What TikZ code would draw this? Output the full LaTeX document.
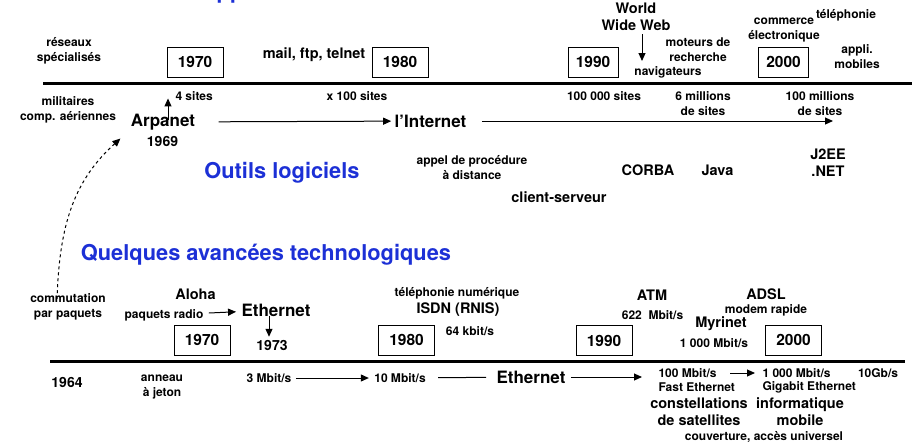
\documentclass[tikz,border=0pt]{standalone}
\usepackage{fontspec}
\setmainfont{TeX Gyre Heros}
\usetikzlibrary{arrows.meta}
\definecolor{title_blue}{RGB}{28,48,214}
\tikzset{
	txt/.style = {
		align=center,
		inner sep=0pt
	},
	txt_s/.style = {
		txt,
		font=\bfseries\fontsize{12}{15}\selectfont
	},
	txt_m/.style = {
		txt,
		font=\bfseries\fontsize{14.5}{17}\selectfont
	},
	txt_l/.style = {
		txt,
		font=\bfseries\fontsize{17}{20}\selectfont
	},
	txt_date/.style = {
		txt,
		font=\bfseries\fontsize{14}{17}\selectfont
	},
	txt_title/.style = {
		txt,
		title_blue,
		font=\bfseries\fontsize{21.8}{25}\selectfont
	},
	node_year/.style = {
		draw=black,
		line width=1pt,
		inner sep=0pt,
		minimum width=56pt,
		minimum height=30pt,
		font=\bfseries\fontsize{15.5}{18}\selectfont
	},
	node_year_n/.style = {
		node_year,
		minimum width=50pt
	},
	timeline/.style = {
		line width=3pt
	},
}

\begin{document}
\begin{tikzpicture}[x=1pt, y=-1pt, >={Triangle[length=8pt,width=7pt]}, line width=1pt]
\useasboundingbox (0,0) rectangle (915,447);

% applications
\node [txt_title, anchor=base west] (t_app) at (200.5,-1.6) {Applications};
\draw [timeline] (43,83) coordinate (top_start) -- (912,83) coordinate (top_stop);
\node [node_year] (y70) at (195,62) {1970};
\node [node_year] (y80) at (400,62) {1980};
\node [node_year_n] (y90) at (593,62) {1990};
\node [node_year_n] (y00) at (783.5,62) {2000};
\node [txt_s] (reseaux) at (69,51) {réseaux\\spécialisés};
\node [txt_m] (mail) at (314,55) {mail, ftp, telnet};
\node [txt_m] (www) at (636,17) {World\\Wide Web};
\node [txt_s] (moteurs) at (698,50) {moteurs de\\recherche};
\node [txt_s] (navig) at (668,72) {navigateurs};
\node [txt_s] (commerce) at (784,30) {commerce\\électronique};
\node [txt_s] (telephonie) at (846,15) {téléphonie};
\node [txt_s] (appli) at (857,57) {appli.\\mobiles};
\coordinate (www_tip) at (642,61);
\draw [->] (www.south -| www_tip) ++(0,3) -- (www_tip);

\node [txt_s] (militaires) at (68,110) {militaires\\comp. aériennes};
\node [txt_l] (arpanet) at (163,122) {Arpanet};
\node [txt_date] (d69) at (162.5,141) {1969};
\node [txt_l] (internet) at (430.5,121) {l’Internet};
\coordinate (top_end) at (833,121);
\draw [->, shorten <=23pt, shorten >=3pt] (arpanet) -- (internet);
\draw [->, shorten <=15pt] (internet) -- (top_end);
\draw [->] ([xshift=5pt,yshift=-7pt]arpanet.north) -- ([xshift=5pt,yshift=15pt]arpanet.north);
\node [txt_s, anchor=west] (s4) at (175,96) {4 sites};
\node [txt_s] (s100) at (357,96) {x 100 sites};
\node [txt_s] (s100k) at (604,96) {100 000 sites};
\node [txt_s] (s6m) at (703,104) {6 millions\\de sites};
\node [txt_s] (s100m) at (820,104) {100 millions\\de sites};

% outils logiciels
\node [txt_title] (t_outils) at (282,173) {Outils logiciels};
\node [txt_s] (appel) at (472,168) {appel de procédure\\à distance};
\node [txt_m] (clientserv) at (559,197) {client-serveur};
\node [txt_m] (corba) at (648,170) {CORBA};
\node [txt_m] (java) at (717.5,170) {Java};
\node [txt_m] (j2ee) at (828,163) {J2EE\\.NET};

% avancees technologiques
\node [txt_title] (t_techno) at (266,255) {Quelques avancées technologiques};
\node [txt_s] (commut) at (68,307) {commutation\\par paquets};
\draw [->, dashed] ([xshift=-11pt,yshift=-6pt]commut.north) to[out=88, in=222] ([xshift=-10pt,yshift=-8pt]arpanet.south west);

\draw [timeline] (50,361) coordinate (bot_start) -- (905,361) coordinate (bot_stop);
\node [node_year] (b70) at (202,340) {1970};
\node [node_year] (b80) at (406.5,340) {1980};
\node [node_year] (b90) at (604,340.5) {1990};
\node [node_year] (b00) at (793.5,340) {2000};

\node [txt_m] (aloha) at (195.5,294) {Aloha};
\node [txt_s] (radio) at (164,315) {paquets radio};
\node [txt_l] (eth73) at (276,310) {Ethernet};
\node [txt_date] (d73) at (272,345) {1973};
\draw [->, shorten <=5pt, shorten >=5pt] (radio) -- (eth73);
\draw [->] ([xshift=-7pt,yshift=1pt]eth73.south) -- ++(0,21);
\node [txt_s] (telnum) at (457,293) {téléphonie numérique};
\node [txt_m] (isdn) at (458,310) {ISDN (RNIS)};
\node [txt_s] (k64) at (470,331) {64 kbit/s};
\node [txt_m] (atm) at (652,295) {ATM};
\node [txt_s] (m622) at (652.5,315) {622\ \ Mbit/s};
\node [txt_m] (myrinet) at (721,324) {Myrinet};
\node [txt_s] (m1000a) at (714,343) {1 000 Mbit/s};
\node [txt_m] (adsl) at (766,294) {ADSL};
\node [txt_s] (modem) at (766,310) {modem rapide};

\node [txt_date] (d64) at (67,382) {1964};
\node [txt_s] (anneau) at (162,387) {anneau\\à jeton};
\node [txt_s] (m3) at (269,378) {3 Mbit/s};
\node [txt_s] (m10) at (400,378) {10 Mbit/s};
\node [txt_l] (eth_b) at (531,377) {Ethernet};
\node [txt_s, anchor=west] (m100) at (658,373) {100 Mbit/s};
\node [txt_s, anchor=west] (fast) at (658,387) {Fast Ethernet};
\node [txt_s, anchor=west] (m1000b) at (762,373) {1 000 Mbit/s};
\node [txt_s, anchor=west] (giga) at (762,387) {Gigabit Ethernet};
\node [txt_s] (g10) at (878,373) {10Gb/s};
\draw [->, shorten <=4pt, shorten >=5pt] (m3) -- (m10);
\draw [shorten <=12pt, shorten >=10pt] (m10) -- (eth_b);
\draw [->, shorten <=5pt, shorten >=16pt] (eth_b) -- (m100.west |- eth_b);
\draw [->, shorten <=13pt, shorten >=7pt] (m100) -- (m1000b);
\node [txt_m] (constell) at (699,412) {constellations\\de satellites};
\node [txt_m] (infomob) at (800,412) {informatique\\mobile};
\node [txt_s] (couverture) at (764,437) {couverture, accès universel};
\end{tikzpicture}
\end{document}
